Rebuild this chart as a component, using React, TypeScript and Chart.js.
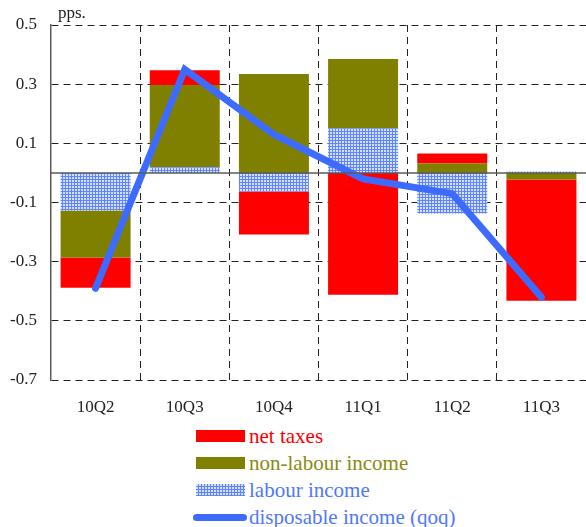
import React, { useEffect, useRef } from 'react';
import { Chart, registerables } from 'chart.js';
Chart.register(...registerables);

const categories = ['10Q2', '10Q3', '10Q4', '11Q1', '11Q2', '11Q3'];
const labourIncome = [-0.127, 0.019, -0.063, 0.151, -0.137, 0.005];
const nonLabourIncome = [-0.159, 0.278, 0.334, 0.234, 0.032, -0.022];
const netTaxes = [-0.102, 0.05, -0.145, -0.412, 0.034, -0.41];
const disposableIncome = [-0.39, 0.35, 0.13, -0.02, -0.07, -0.42];
const yTicks = [-0.7, -0.5, -0.3, -0.1, 0.1, 0.3, 0.5];

const legendItems = [
  { label: 'net taxes', kind: 'box', color: '#ff0000', text: '#ff0000' },
  { label: 'non-labour income', kind: 'box', color: '#808000', text: '#8a8a10' },
  { label: 'labour income', kind: 'pattern', color: '#5c80ff', text: '#4f78ff' },
  { label: 'disposable income (qoq)', kind: 'line', color: '#3d6bff', text: '#4f78ff' },
];

const FONT = '"Liberation Serif", "Times New Roman", serif';

function makePatternCanvas(): HTMLCanvasElement {
  const c = document.createElement('canvas');
  c.width = 3;
  c.height = 3;
  const g = c.getContext('2d');
  if (g) {
    g.fillStyle = '#5f84ff';
    g.fillRect(0, 0, 3, 3);
    g.fillStyle = '#d6e0ff';
    g.fillRect(0, 0, 2, 2);
  }
  return c;
}

export default function App() {
  const ref = useRef<HTMLCanvasElement>(null);
  const [patternUrl, setPatternUrl] = React.useState('');
  useEffect(() => {
    document.body.style.margin = '0';
    if (!ref.current) return;
    const pc = makePatternCanvas();
    setPatternUrl(pc.toDataURL());
    const pattern = ref.current.getContext('2d')!.createPattern(pc, 'repeat') || '#8faaff';
    const extras = {
      id: 'extras',
      afterDatasetsDraw(chart: any) {
        const { ctx, chartArea } = chart;
        const y0 = chart.scales.y.getPixelForValue(0);
        ctx.save();
        ctx.strokeStyle = '#5a5a5a';
        ctx.lineWidth = 1.5;
        ctx.beginPath();
        ctx.moveTo(chartArea.left, y0);
        ctx.lineTo(chartArea.right, y0);
        ctx.stroke();
        ctx.restore();
      },
      afterDraw(chart: any) {
        const { ctx, chartArea } = chart;
        ctx.save();
        ctx.fillStyle = '#222';
        ctx.font = '17px ' + FONT;
        ctx.textBaseline = 'alphabetic';
        ctx.fillText('pps.', chartArea.left + 7, chartArea.top - 7);
        ctx.restore();
      },
    };
    const chart = new Chart(ref.current, {
      type: 'bar',
      data: {
        labels: categories,
        datasets: [
          {
            type: 'bar',
            label: 'labour income',
            data: labourIncome,
            backgroundColor: pattern as any,
            borderWidth: 0,
            order: 1,
            barPercentage: 0.785,
            categoryPercentage: 1,
          },
          {
            type: 'bar',
            label: 'non-labour income',
            data: nonLabourIncome,
            backgroundColor: '#808000',
            borderWidth: 0,
            order: 1,
            barPercentage: 0.785,
            categoryPercentage: 1,
          },
          {
            type: 'bar',
            label: 'net taxes',
            data: netTaxes,
            backgroundColor: '#ff0000',
            borderWidth: 0,
            order: 1,
            barPercentage: 0.785,
            categoryPercentage: 1,
          },
          {
            type: 'line',
            label: 'disposable income (qoq)',
            data: disposableIncome,
            borderColor: '#3d6bff',
            backgroundColor: '#3d6bff',
            borderWidth: 7,
            borderCapStyle: 'round',
            borderJoinStyle: 'miter',
            pointRadius: 0,
            tension: 0,
            fill: false,
            order: 0,
            stack: 'line',
          } as any,
        ],
      },
      options: {
        responsive: false,
        animation: false,
        layout: { padding: { top: 25, left: 0, right: 0, bottom: 0 } },
        plugins: {
          legend: { display: false },
          tooltip: { enabled: false },
        },
        scales: {
          x: {
            stacked: true,
            offset: true,
            grid: {
              offset: true,
              drawTicks: false,
              color: (c: any) =>
                c.index === 0 || c.index === categories.length ? 'rgba(0,0,0,0)' : '#222',
              lineWidth: 1,
            },
            border: { display: false, dash: [7, 5] },
            ticks: {
              color: '#222',
              font: { family: FONT, size: 17 },
              padding: 17,
              maxRotation: 0,
            },
            afterFit: (s: any) => {
              s.height = 40;
            },
          },
          y: {
            stacked: true,
            min: -0.7,
            max: 0.5,
            afterBuildTicks: (s: any) => {
              s.ticks = yTicks.map((v) => ({ value: v }));
            },
            grid: { drawTicks: false, color: '#222', lineWidth: 1 },
            border: { display: true, color: '#5a5a5a', width: 1.5, dash: [7, 5] },
            ticks: {
              color: '#222',
              font: { family: FONT, size: 17 },
              padding: 14,
              callback: (v: any) => Number(v).toFixed(1),
            },
            afterFit: (s: any) => {
              s.width = 51;
            },
          },
        },
      },
      plugins: [extras],
    });
    return () => chart.destroy();
  }, []);

  return (
    <div style={{ position: 'relative', width: 586, height: 527, overflow: 'hidden' }}>
      <canvas ref={ref} width={586} height={420} style={{ display: 'block' }} />
      {legendItems.map((it, i) => {
        const cy = 436 + i * 27;
        let marker: any;
        if (it.kind === 'line') {
          marker = (
            <div
              style={{
                position: 'absolute',
                left: 193,
                top: cy - 3.5,
                width: 54,
                height: 7,
                borderRadius: 4,
                background: it.color,
              }}
            />
          );
        } else if (it.kind === 'pattern') {
          marker = (
            <div
              style={{
                position: 'absolute',
                left: 196,
                top: cy - 6,
                width: 49,
                height: 12,
                backgroundColor: '#8faaff',
                backgroundImage: patternUrl ? `url(${patternUrl})` : 'none',
                backgroundRepeat: 'repeat',
                imageRendering: 'pixelated',
              }}
            />
          );
        } else {
          marker = (
            <div
              style={{
                position: 'absolute',
                left: 196,
                top: cy - 6,
                width: 49,
                height: 12,
                background: it.color,
              }}
            />
          );
        }
        return (
          <React.Fragment key={it.label}>
            {marker}
            <div
              style={{
                position: 'absolute',
                left: 249,
                top: cy - 13,
                height: 26,
                lineHeight: '26px',
                fontFamily: FONT,
                fontSize: 21,
                color: it.text,
                whiteSpace: 'nowrap',
              }}
            >
              {it.label}
            </div>
          </React.Fragment>
        );
      })}
    </div>
  );
}
